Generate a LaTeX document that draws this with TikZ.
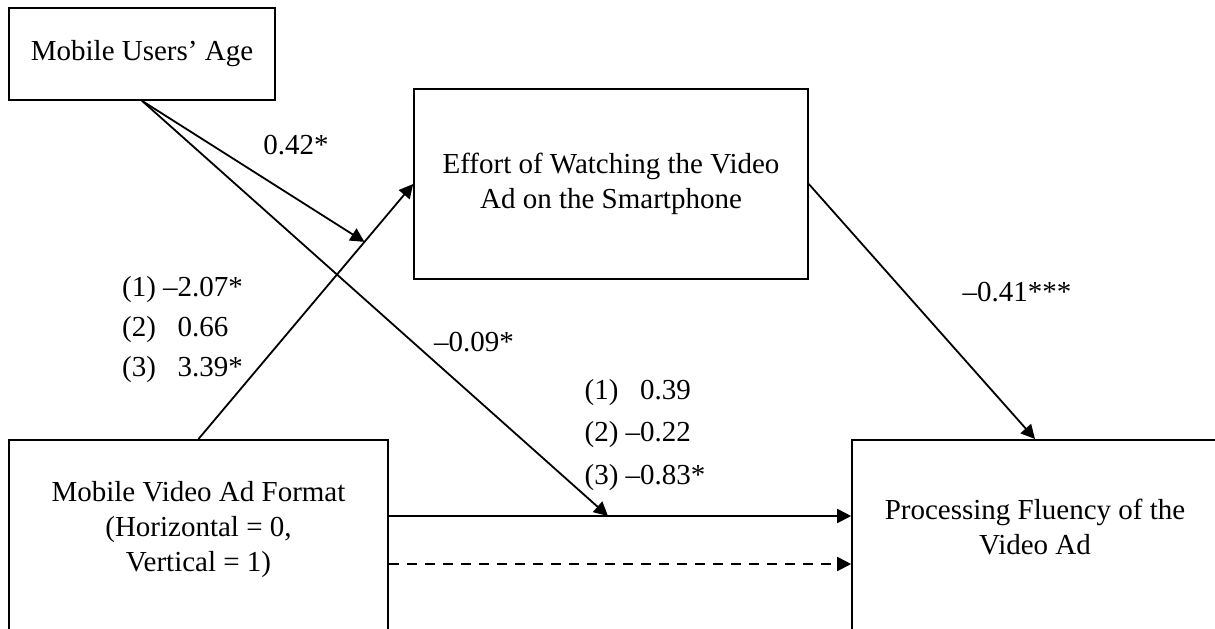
\documentclass[tikz,border=0pt]{standalone}
\usepackage{fontspec}
\setmainfont{Liberation Serif}
\usetikzlibrary{arrows.meta,positioning}

\begin{document}
\begin{tikzpicture}[
  x=0.5pt, y=-0.5pt,
  font=\fontsize{14.5}{17.5}\selectfont,
  varbox/.style={draw, line width=0.8pt, align=center, inner xsep=0pt},
  link/.style={-{Triangle[length=7pt,width=7pt]}, line width=0.9pt},
  coef/.style={inner sep=0pt, align=left, font=\fontsize{14.5}{20}\selectfont}
]
\clip (0,0) rectangle (1215,628);
\node[varbox, minimum width=133pt, minimum height=46pt] (age) at (142,54) {Mobile Users’ Age};
\node[varbox, minimum width=197pt, minimum height=95pt] (effort) at (611,184) {Effort of Watching the Video\\Ad on the Smartphone};
\node[varbox, anchor=north, minimum width=189.5pt, inner ysep=21pt, text depth=80pt] (format) at (198.5,439) {Mobile Video Ad Format\\(Horizontal = 0,\\Vertical = 1)};
\node[varbox, anchor=north, minimum width=183pt, inner ysep=29.5pt, text depth=80pt] (fluency) at (1035,439) {Processing Fluency of the\\Video Ad};
\draw[link] (format.north) -- coordinate[pos=0.773] (agemod1) (effort.west);
\draw[link] (effort.east) -- (fluency.north);
\draw[link] ([yshift=-38.5pt]format.north east) -- coordinate[pos=0.474] (agemod2) ([yshift=-38.5pt]fluency.north west);
\draw[link, dash pattern=on 5pt off 4pt] ([yshift=-62.5pt]format.north east) -- ([yshift=-62.5pt]fluency.north west);
\draw[link] (age.south) -- (agemod1);
\draw[link] (age.south) -- (agemod2);
\node[coef] (c042) at (296,145) {0.42*};
\node[coef] (c1) at (182.5,330) {(1) –2.07*\\(2) \phantom{–}0.66\\(3) \phantom{–}3.39*};
\node[coef] (c009) at (474,342) {–0.09*};
\node[coef, font=\fontsize{14.5}{21.25}\selectfont] (c2) at (645,435) {(1) \phantom{–}0.39\\(2) –0.22\\(3) –0.83*};
\node[coef] (c041) at (1017,292) {–0.41***};
\end{tikzpicture}
\end{document}
